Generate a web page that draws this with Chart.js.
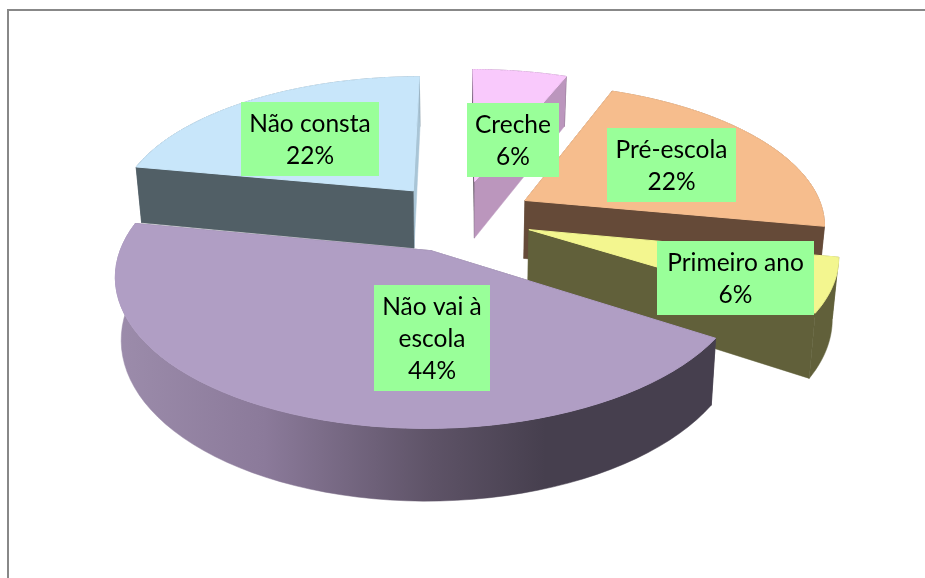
<!DOCTYPE html>
<html>
<head>
<meta charset="utf-8">
<title>Pizza 3D</title>
<script src="https://cdn.jsdelivr.net/npm/chart.js@4/dist/chart.umd.js"></script>
<style>
html, body { margin: 0; padding: 0; background: #fff; }
canvas { display: block; }
</style>
</head>
<body>
<canvas id="pieChart" width="925" height="578"></canvas>
<script>
const categories = ['Creche', 'Pré-escola', 'Primeiro ano', 'Não vai à escola', 'Não consta'];
const percents = [6, 22, 6, 44, 22];
const topColors = ['#F9C9FC', '#F6BD8D', '#F3F68F', '#B09EC4', '#C8E6FA'];
const sideColors = ['#4A3A4C', '#654A38', '#61603A', null, '#515F66'];
const endWallColors = ['#BB96BD', '#654A38', '#61603A', '#463F4E', '#A9C5D6'];
const explode = [69, 64, 62, 64, 64];

// back to front, the slices overlap on screen
const paintOrder = [0, 4, 1, 2, 3];

// label boxes in page pixels: x, y, w, h
const labelBoxes = [
    [467, 103, 92, 74],
    [607, 128, 129, 74],
    [657, 241, 157, 74],
    [374, 285, 116, 106],
    [241, 102, 138, 74]
];

const ctx = document.getElementById('pieChart').getContext('2d');

const purpleSide = ctx.createLinearGradient(116, 0, 712, 0);
purpleSide.addColorStop(0, '#9C8CAB');
purpleSide.addColorStop(0.25, '#8B7A9A');
purpleSide.addColorStop(0.53, '#5E5367');
purpleSide.addColorStop(0.72, '#463F4E');
purpleSide.addColorStop(1, '#463F4E');
sideColors[3] = purpleSide;

// camera used to lay the flat pie on a table
const view = { cx: 460, cy: 217, a: 300, b: 139, p: 0.153, depth: 59, shrink: 0.983 };

function project(u, v, bottom) {
    const w = 1 + view.p * v;
    let x = view.cx + view.a * u / w;
    let y = view.cy - view.b * v / w;
    if (bottom) {
        x = view.cx + (x - view.cx) * view.shrink;
        y += view.depth / w;
    }
    return [x, y];
}

// the thin stroke closes seams between neighbouring polygons
function paintPath(c, pts, fill, seam) {
    c.beginPath();
    pts.forEach((p, i) => (i ? c.lineTo(p[0], p[1]) : c.moveTo(p[0], p[1])));
    c.closePath();
    c.fillStyle = fill;
    c.fill();
    c.strokeStyle = fill;
    c.lineWidth = seam;
    c.stroke();
}

class Arc3D extends Chart.ArcElement {
    static id = 'arc3d';

    draw(c) {
        const { startAngle, endAngle, outerRadius } = this.getProps(['startAngle', 'endAngle', 'outerRadius']);
        const mid = (startAngle + endAngle) / 2;
        const off = this.options.offset / outerRadius;
        const ou = off * Math.cos(mid);
        const ov = -off * Math.sin(mid);
        const steps = 60;
        const rim = [];
        for (let i = 0; i <= steps; i++) {
            const t = startAngle + (endAngle - startAngle) * i / steps;
            rim.push([ou + Math.cos(t), ov - Math.sin(t)]);
        }
        const top = (q) => project(q[0], q[1], false);
        const low = (q) => project(q[0], q[1], true);
        const apex = [ou, ov];
        const first = rim[0];
        const last = rim[steps];

        const walls = [
            { v: rim[steps >> 1][1], pts: rim.map(top).concat(rim.slice().reverse().map(low)), fill: this.side },
            { v: (first[1] + ov) / 2, pts: [top(apex), top(first), low(first), low(apex)], fill: this.side },
            { v: (last[1] + ov) / 2, pts: [top(apex), top(last), low(last), low(apex)], fill: this.endWall }
        ];
        walls.sort((m, n) => n.v - m.v).forEach((wall) => paintPath(c, wall.pts, wall.fill, 0.5));
        paintPath(c, [top(apex)].concat(rim.map(top)), this.options.backgroundColor, 1);
    }
}

class Pie3DController extends Chart.PieController {
    static id = 'pie3d';
    static defaults = { dataElementType: 'arc3d' };

    draw() {
        const elements = this._cachedMeta.data;
        const ds = this.getDataset();
        paintOrder.forEach((i) => {
            elements[i].side = ds.sideColor[i];
            elements[i].endWall = ds.endWallColor[i];
            elements[i].draw(this.chart.ctx);
        });
    }
}

Chart.register(Arc3D, Pie3DController);

const frame = {
    id: 'frame',
    beforeDraw(chart) {
        const c = chart.ctx;
        c.fillStyle = '#888888';
        c.fillRect(7, 9, 2, 569);
        c.fillRect(7, 9, 918, 2);
    }
};

function wrapWords(c, text, width) {
    const lines = [];
    let line = '';
    text.split(' ').forEach((word) => {
        const next = line ? line + ' ' + word : word;
        if (line && c.measureText(next).width > width) {
            lines.push(line);
            line = word;
        } else {
            line = next;
        }
    });
    lines.push(line);
    return lines;
}

const sliceLabels = {
    id: 'sliceLabels',
    afterDatasetsDraw(chart) {
        const c = chart.ctx;
        c.save();
        c.font = '24.5px Lato, "Open Sans", sans-serif';
        c.textAlign = 'center';
        c.textBaseline = 'alphabetic';
        categories.forEach((name, i) => {
            const [x, y, w, h] = labelBoxes[i];
            c.fillStyle = '#99FF99';
            c.fillRect(x, y, w, h);
            c.fillStyle = '#000';
            const lines = wrapWords(c, name, w - 14).concat(percents[i] + '%');
            lines.forEach((line, k) => c.fillText(line, x + w / 2, y + 30 + k * 32));
        });
        c.restore();
    }
};

new Chart(ctx, {
    type: 'pie3d',
    data: {
        labels: categories,
        datasets: [{
            data: percents,
            backgroundColor: topColors,
            sideColor: sideColors,
            endWallColor: endWallColors,
            offset: explode,
            borderWidth: 0,
            clip: false
        }]
    },
    options: {
        responsive: false,
        animation: false,
        layout: { padding: 0 },
        plugins: { legend: { display: false }, tooltip: { enabled: false } }
    },
    plugins: [frame, sliceLabels]
});
</script>
</body>
</html>
